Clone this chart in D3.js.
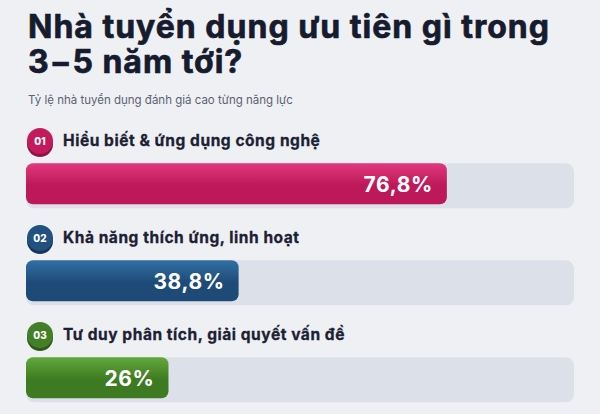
<!DOCTYPE html>
<html>
<head>
<meta charset="utf-8">
<script src="https://cdn.jsdelivr.net/npm/d3@7"></script>
<style>
  html, body { margin: 0; padding: 0; background: #eff0f4; }
  svg { display: block; font-family: Inter, "Noto Sans", sans-serif; }
</style>
</head>
<body>
<svg id="chart" width="600" height="414"></svg>
<script>
// Dữ liệu
var badges = ["01", "02", "03"];
var labels = ["Hiểu biết & ứng dụng công nghệ", "Khả năng thích ứng, linh hoạt", "Tư duy phân tích, giải quyết vấn đề"];
var values = [76.8, 38.8, 26];
var valueLabels = ["76,8%", "38,8%", "26%"];

// Màu cho từng dòng
var palette = [
    { light: "#e1387c", dark: "#bd185a", badge: "#c21a5d", shadow: "#8f1244" },
    { light: "#3170a5", dark: "#1e4a77", badge: "#22507f", shadow: "#163659" },
    { light: "#63a83c", dark: "#3e7a21", badge: "#437f27", shadow: "#2d5a18" }
];

var svg = d3.select("#chart"),
    width = +svg.attr("width"),
    height = +svg.attr("height");

var x = d3.scaleLinear().domain([0, 100]).range([26, 574]);
var row = d3.scaleBand().domain(badges).range([124, 415]);

// Gradient cho thanh
var defs = svg.append("defs");
palette.forEach(function(p, i) {
    var g = defs.append("linearGradient")
        .attr("id", "grad" + i)
        .attr("x1", 0).attr("y1", 0).attr("x2", 0).attr("y2", 1);
    g.append("stop").attr("offset", "0%").attr("stop-color", p.light);
    g.append("stop").attr("offset", "55%").attr("stop-color", p.dark);
    g.append("stop").attr("offset", "100%").attr("stop-color", p.dark);
});

// Tiêu đề
var title = svg.append("text")
    .attr("x", 28)
    .attr("y", 37.5)
    .attr("fill", "#161c2d")
    .attr("stroke", "#161c2d")
    .attr("stroke-width", 0.7)
    .style("font-size", "32px")
    .style("font-weight", 700)
    .style("letter-spacing", "1px");
title.append("tspan").attr("x", 28).text("Nhà tuyển dụng ưu tiên gì trong");
title.append("tspan").attr("x", 28).attr("dy", 35.5).text("3−5 năm tới?");

svg.append("text")
    .attr("x", 28)
    .attr("y", 104)
    .attr("fill", "#5b6272")
    .style("font-size", "11.5px")
    .text("Tỷ lệ nhà tuyển dụng đánh giá cao từng năng lực");

var rows = svg.selectAll("g.row")
    .data(badges)
    .enter().append("g")
    .attr("class", "row")
    .attr("transform", function(d) { return "translate(0," + row(d) + ")"; });

// Huy hiệu số
rows.append("circle")
    .attr("cx", 40).attr("cy", 20).attr("r", 13)
    .attr("fill", function(d, i) { return palette[i].shadow; });
rows.append("circle")
    .attr("cx", 40).attr("cy", 17).attr("r", 13)
    .attr("fill", function(d, i) { return palette[i].badge; });
rows.append("text")
    .attr("x", 40).attr("y", 20.6)
    .attr("text-anchor", "middle")
    .attr("fill", "#ffffff")
    .style("font-size", "10px")
    .style("font-weight", 800)
    .text(function(d) { return d; });

// Nhãn
rows.append("text")
    .attr("x", 63).attr("y", 21.5)
    .attr("fill", "#1b2133")
    .attr("stroke", "#1b2133")
    .attr("stroke-width", 0.3)
    .style("font-size", "15.5px")
    .style("font-weight", 700)
    .style("letter-spacing", "0.55px")
    .text(function(d, i) { return labels[i]; });

// Nền thanh
rows.append("rect")
    .attr("x", x(0)).attr("y", 39.3)
    .attr("width", x(100) - x(0)).attr("height", 45)
    .attr("rx", 8)
    .attr("fill", "#dce0e8");

// Thanh giá trị
rows.append("rect")
    .attr("x", x(0)).attr("y", 39.3)
    .attr("width", function(d, i) { return x(values[i]) - x(0); })
    .attr("height", 41)
    .attr("rx", 7)
    .attr("fill", function(d, i) { return "url(#grad" + i + ")"; });

rows.append("text")
    .attr("x", function(d, i) { return x(values[i]) - 14; })
    .attr("y", 67.8)
    .attr("text-anchor", "end")
    .attr("fill", "#ffffff")
    .style("font-size", "21px")
    .style("font-weight", 700)
    .style("letter-spacing", "0.6px")
    .text(function(d, i) { return valueLabels[i]; });
</script>
</body>
</html>
